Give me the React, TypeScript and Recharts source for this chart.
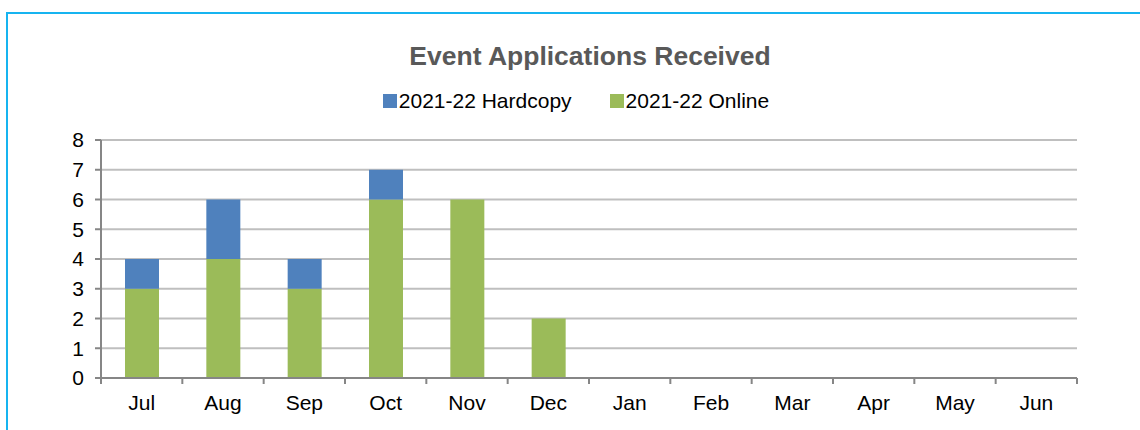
import React from "react";
import { BarChart, Bar, XAxis, YAxis, CartesianGrid, Legend } from "recharts";

const months = ["Jul", "Aug", "Sep", "Oct", "Nov", "Dec", "Jan", "Feb", "Mar", "Apr", "May", "Jun"];
const online = [3, 4, 3, 6, 6, 2, 0, 0, 0, 0, 0, 0];
const hardcopy = [1, 2, 1, 1, 0, 0, 0, 0, 0, 0, 0, 0];
const yTicks = [0, 1, 2, 3, 4, 5, 6, 7, 8];

const data = months.map((m, i) => ({ month: m, online: online[i], hardcopy: hardcopy[i] }));

const FONT = "'Liberation Sans', Arial, sans-serif";
const BLUE = "#4f81bd";
const GREEN = "#9bbb59";
const AXIS = "#868686";
const X_TICK_MARGIN = 10;

const legendOrder = ["hardcopy", "online"];

const LegendContent = (props: any) => {
  const payload = [...(props.payload || [])].sort(
    (a: any, b: any) => legendOrder.indexOf(a.dataKey) - legendOrder.indexOf(b.dataKey)
  );
  return (
    <div style={{ display: "flex", justifyContent: "center", fontFamily: FONT, fontSize: 21, color: "#000" }}>
      {payload.map((p: any, i: number) => (
        <div key={i} style={{ display: "flex", alignItems: "center", marginLeft: i === 0 ? 0 : 38 }}>
          <span style={{ display: "inline-block", width: 14, height: 14, background: p.color, marginRight: 2 }} />
          <span>{p.value}</span>
        </div>
      ))}
    </div>
  );
};

const MonthTick = (props: any) => {
  const { x, y, payload, index, visibleTicksCount } = props;
  const half = payload && payload.offset ? payload.offset : 0;
  const axisY = y - X_TICK_MARGIN;
  const isLast = visibleTicksCount ? index === visibleTicksCount - 1 : payload.value === months[months.length - 1];
  return (
    <g>
      <line x1={x - half} x2={x - half} y1={axisY} y2={axisY + 6} stroke={AXIS} strokeWidth={2} />
      {isLast && <line x1={x + half} x2={x + half} y1={axisY} y2={axisY + 6} stroke={AXIS} strokeWidth={2} />}
      <text x={x} y={axisY + 32} textAnchor="middle" fill="#000" fontFamily={FONT} fontSize={21}>
        {payload.value}
      </text>
    </g>
  );
};

export default function App() {
  return (
    <div style={{ position: "absolute", left: 0, top: 0, width: 1140, height: 430, background: "#fff", overflow: "hidden" }}>
      <div
        style={{
          position: "absolute",
          left: 6,
          top: 12,
          width: 1200,
          height: 500,
          borderTop: "2px solid #16b4f0",
          borderLeft: "2px solid #16b4f0",
        }}
      />
      <div
        style={{
          position: "absolute",
          left: 0,
          top: 40,
          width: 1180,
          textAlign: "center",
          fontFamily: FONT,
          fontWeight: "bold",
          fontSize: 26.5,
          color: "#595959",
          lineHeight: "32px",
        }}
      >
        Event Applications Received
      </div>
      <div style={{ position: "absolute", left: 0, top: 0 }}>
        <BarChart width={1140} height={430} data={data} margin={{ top: 116, right: 63, bottom: 0, left: 0 }}>
          <CartesianGrid horizontal={true} vertical={false} stroke="#bfbfbf" strokeWidth={2} />
          <XAxis
            dataKey="month"
            height={52}
            tickLine={false}
            tickSize={0}
            tickMargin={X_TICK_MARGIN}
            axisLine={{ stroke: AXIS, strokeWidth: 2 }}
            tick={<MonthTick />}
            interval={0}
          />
          <YAxis
            width={101}
            domain={[0, 8]}
            ticks={yTicks}
            interval={0}
            tickSize={6}
            tickMargin={11}
            axisLine={{ stroke: AXIS, strokeWidth: 2 }}
            tickLine={{ stroke: AXIS, strokeWidth: 2 }}
            tick={{ fill: "#000", fontFamily: FONT, fontSize: 21 }}
          />
          <Legend
            verticalAlign="top"
            content={<LegendContent />}
            wrapperStyle={{ position: "absolute", top: 89, left: 6, width: 1140 }}
          />
          <Bar dataKey="online" name="2021-22 Online" stackId="a" fill={GREEN} barSize={34} isAnimationActive={false} />
          <Bar dataKey="hardcopy" name="2021-22 Hardcopy" stackId="a" fill={BLUE} barSize={34} isAnimationActive={false} />
        </BarChart>
      </div>
    </div>
  );
}
